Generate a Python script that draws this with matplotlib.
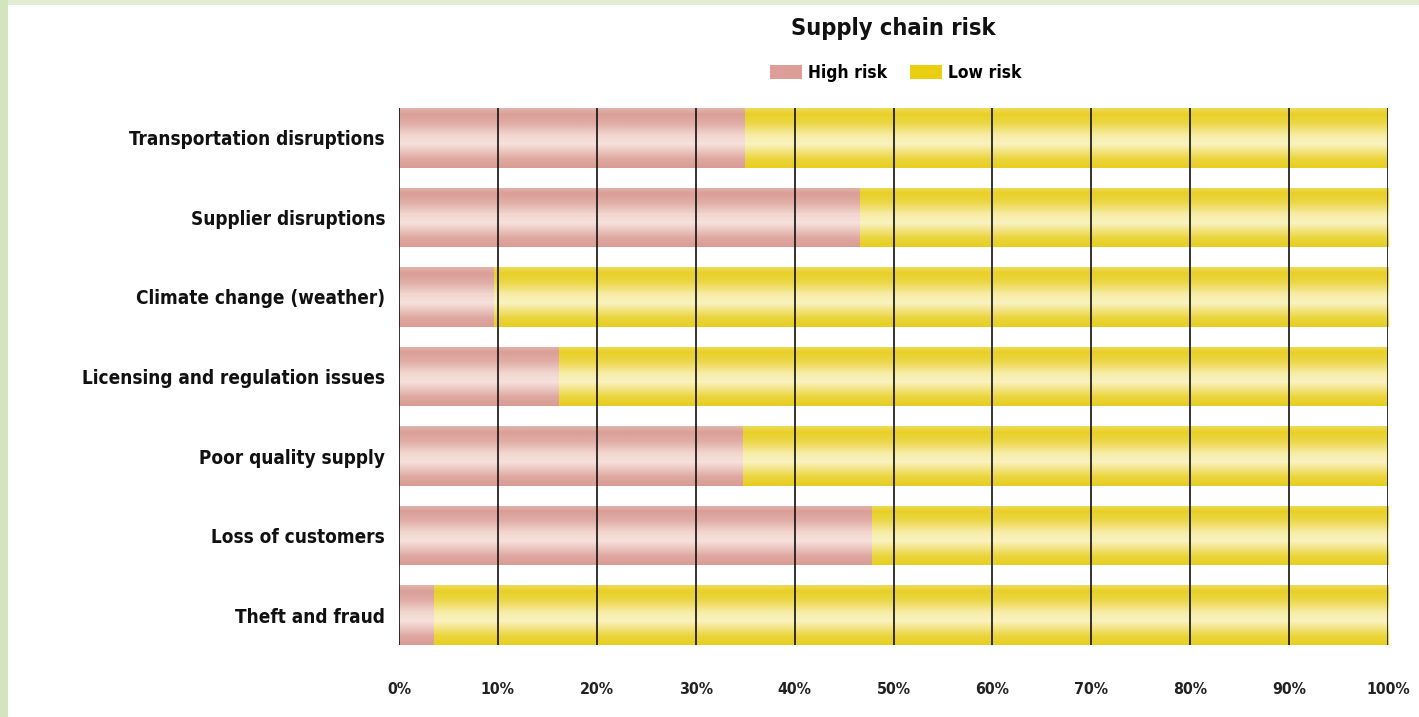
import matplotlib
matplotlib.use("Agg")
import matplotlib.pyplot as plt
import numpy as np
from matplotlib.patches import Rectangle, Patch
from matplotlib.colors import to_rgb
from matplotlib import font_manager
from matplotlib.font_manager import FontProperties

categories = ["Transportation disruptions", "Supplier disruptions", "Climate change (weather)",
              "Licensing and regulation issues", "Poor quality supply", "Loss of customers",
              "Theft and fraud"]
high_risk = [35, 46.6, 9.6, 16.2, 34.8, 47.8, 3.5]
low_risk = [100 - v for v in high_risk]
series_names = ["High risk", "Low risk"]
xticks = [0, 10, 20, 30, 40, 50, 60, 70, 80, 90, 100]
xtick_labels = [f"{t}%" for t in xticks]

# pick a condensed face if one is installed
fp = FontProperties(family="DejaVu Sans", stretch="condensed", weight="bold")
cond = "Condensed" in font_manager.findfont(fp, fallback_to_default=True)
STRETCH = "condensed" if cond else "normal"
plt.rcParams['font.family'] = ["DejaVu Sans"]
plt.rcParams['font.stretch'] = STRETCH

fig = plt.figure(figsize=(14.19, 7.17), dpi=100)
fig.patch.set_facecolor("white")
W, H = 1419, 717
fig.patches.append(Rectangle((0, 1 - 5 / H), 1, 5 / H, transform=fig.transFigure,
                             facecolor="#e3edd6", edgecolor="none", zorder=0))
fig.patches.append(Rectangle((0, 0), 8 / W, 1, transform=fig.transFigure,
                             facecolor="#d5e4c0", edgecolor="none", zorder=0))

ax = fig.add_axes([399 / W, 1 - 645 / H, (1388 - 399) / W, (645 - 108) / H])
bh = 0.75
y = np.arange(len(categories))
dark_p, light_p = np.array(to_rgb("#d6968e")), np.array(to_rgb("#f7e1db"))
dark_y, light_y = np.array(to_rgb("#e6cb12")), np.array(to_rgb("#faf2c0"))

b1 = ax.barh(y, high_risk, height=bh, color="#d9a098", label=series_names[0])
b2 = ax.barh(y, low_risk, left=high_risk, height=bh, color="#e8d030", label=series_names[1])

t = np.linspace(0, 1, 100)
prof = np.interp(t, [0, 0.1, 0.25, 0.45, 0.6, 0.85, 1.0], [0.4, 0.12, 0.3, 0.85, 1.0, 0.25, 0.08])

def grad(dark, light):
    return (dark[None, :] + (light - dark)[None, :] * prof[:, None])[:, None, :]

gp, gy = grad(dark_p, light_p), grad(dark_y, light_y)
for cont, g in ((b1, gp), (b2, gy)):
    for p in cont.patches:
        x0, y0 = p.get_x(), p.get_y()
        w, h = p.get_width(), p.get_height()
        im = ax.imshow(g, extent=(x0, x0 + w, y0 + h, y0), origin="upper",
                       aspect="auto", interpolation="bilinear", zorder=2)
        im.set_clip_path(p)

for xt in xticks:
    ax.axvline(xt, color="#111111", lw=1.2, zorder=3)

ax.set_xlim(0, 100)
ax.set_ylim(len(categories) - 1 + bh / 2, -bh / 2)
ax.set_yticks(y)
ax.set_yticklabels(categories, fontsize=20, fontweight="bold", color="#111111")
ax.set_xticks(xticks)
ax.set_xticklabels(xtick_labels, fontsize=13, fontweight="bold", color="#222222")
ax.tick_params(axis="y", length=0, pad=10)
ax.tick_params(axis="x", length=0, pad=27)
for s in ax.spines.values():
    s.set_visible(False)

title = fig.text(893.5 / W, 1 - 28 / H, "Supply chain risk", ha="center", va="center",
                 fontsize=21, fontweight="bold", color="#111111")
handles = [Patch(facecolor="#dc9e96", edgecolor="none"), Patch(facecolor="#e8d010", edgecolor="none")]

renderer = fig.canvas.get_renderer()

def fit(texts, target_px, size):
    mx = max(tx.get_window_extent(renderer).width for tx in texts)
    return size * target_px / mx

ylabs = ax.get_yticklabels()
ys = fit(ylabs, 303, 20)
for tl in ylabs:
    tl.set_fontsize(ys)
xlabs = ax.get_xticklabels()
xs = fit([xlabs[-1]], 44, 13)
for tl in xlabs:
    tl.set_fontsize(xs)
title.set_fontsize(fit([title], 205, 21))

lg_probe = fig.text(0, 0, "High risk", fontsize=14, fontweight="bold")
ls = fit([lg_probe], 80, 14)
lg_probe.remove()

fig.legend(handles, series_names, loc="center", bbox_to_anchor=(896 / W, 1 - 73 / H), ncol=2,
           frameon=False, prop={"family": "DejaVu Sans", "weight": "bold", "size": ls, "stretch": STRETCH},
           handlelength=32 / (ls * 1.389), handleheight=14 / (ls * 1.389),
           handletextpad=0.35, columnspacing=1.3)

fig.savefig("out.png", dpi=100)
